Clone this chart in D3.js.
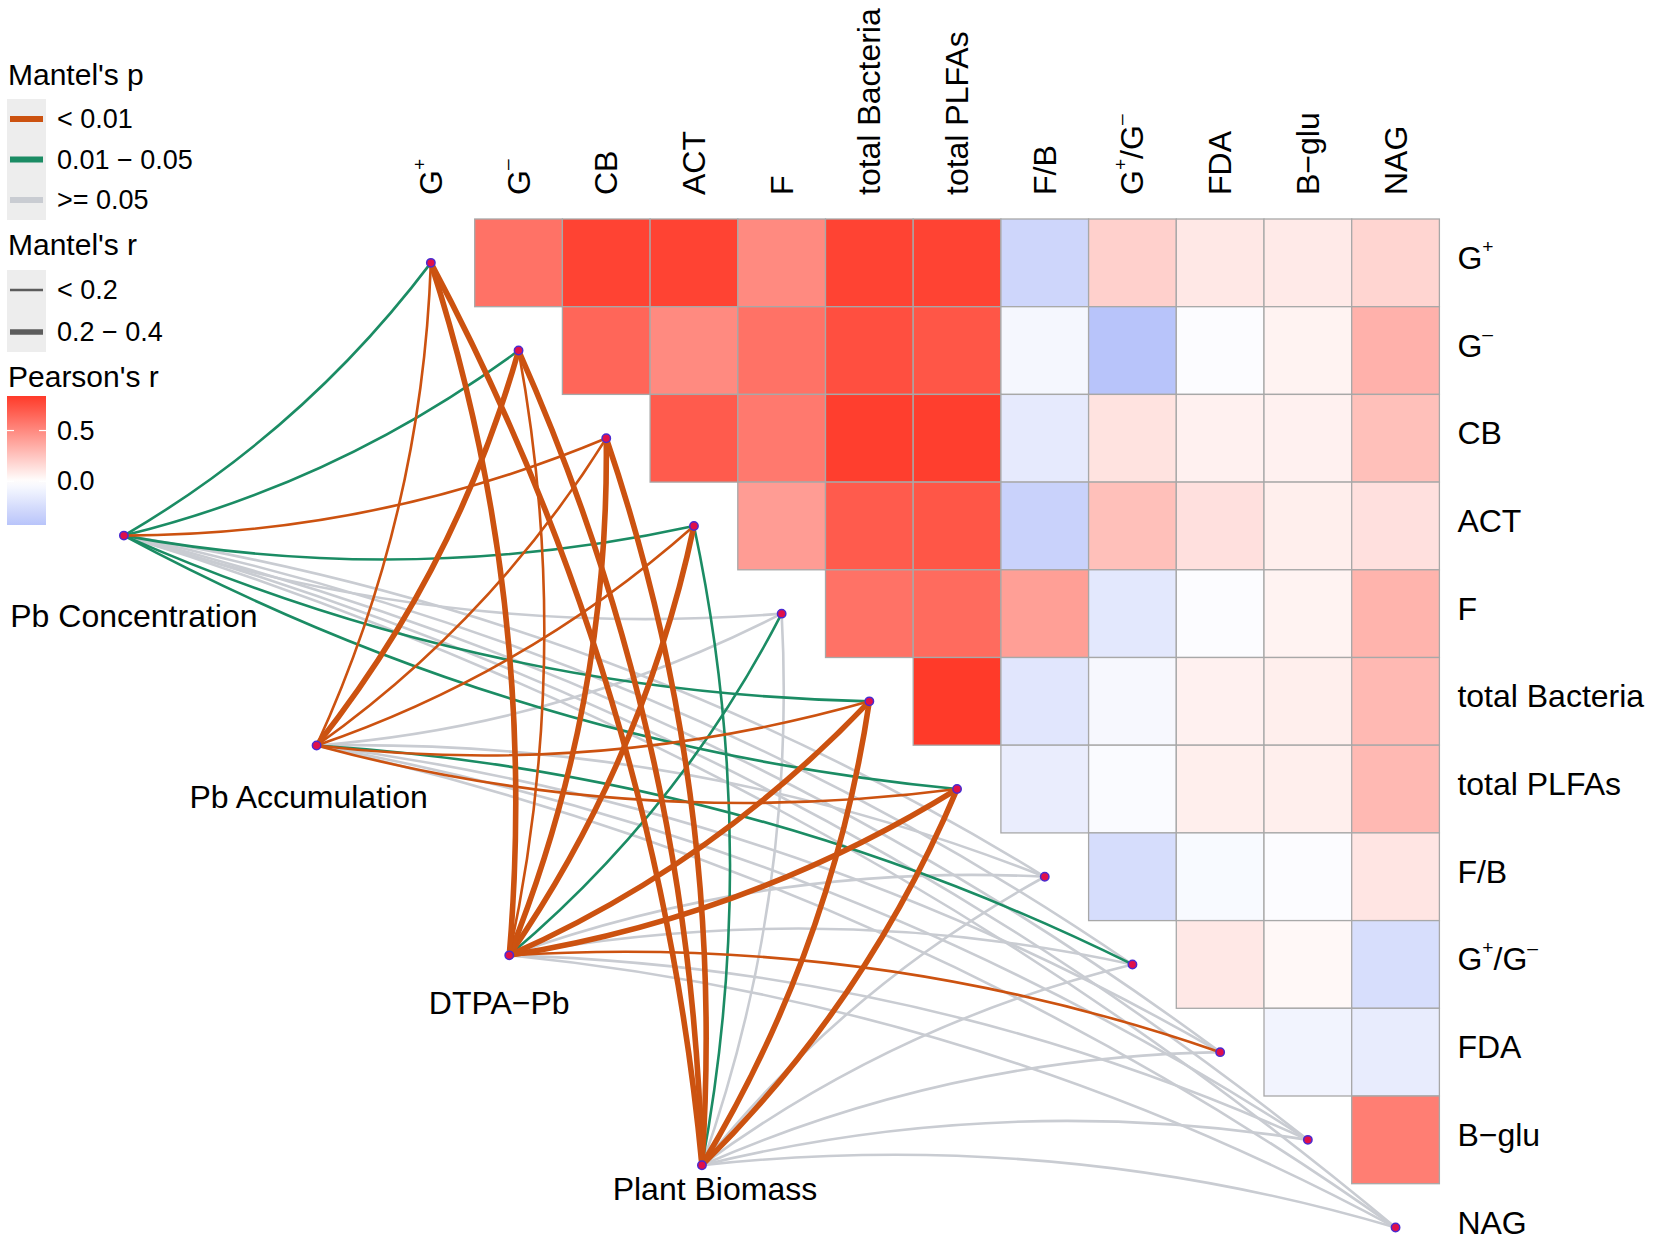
<!DOCTYPE html>
<html>
<head>
<meta charset="utf-8">
<script src="https://cdn.jsdelivr.net/npm/d3@7"></script>
<style>
  body { margin: 0; background: #fff; }
  text { font-family: "Liberation Sans", Arial, sans-serif; fill: #000; }
</style>
</head>
<body>
<svg id="chart" width="1654" height="1240"></svg>
<script>
// ---- data ----
const specNames = ["G^+", "G^-", "CB", "ACT", "F", "total Bacteria", "total PLFAs",
  "F/B", "G^+/G^-", "FDA", "B\u2212glu", "NAG"];
const envNames = ["Pb Concentration", "Pb Accumulation", "DTPA\u2212Pb", "Plant Biomass"];

// Pearson's r, upper triangle: row i holds columns i+1 .. 11
const pearsonRows = [
  [0.60, 0.80, 0.80, 0.50, 0.80, 0.80, -0.30, 0.20, 0.10, 0.09, 0.18],
  [0.65, 0.50, 0.60, 0.75, 0.72, -0.06, -0.43, -0.02, 0.05, 0.33],
  [0.70, 0.57, 0.82, 0.82, -0.15, 0.12, 0.06, 0.06, 0.27],
  [0.42, 0.70, 0.72, -0.33, 0.27, 0.13, 0.07, 0.13],
  [0.60, 0.63, 0.41, -0.17, -0.02, 0.05, 0.32],
  [0.84, -0.18, -0.05, 0.06, 0.07, 0.30],
  [-0.13, -0.03, 0.07, 0.07, 0.30],
  [-0.25, -0.04, -0.02, 0.11],
  [0.10, 0.03, -0.24],
  [-0.08, -0.14],
  [0.55]
];

// Mantel test, one row per env variable, columns follow specNames
const mantelP = [
  [0.030, 0.020, 0.008, 0.040, 0.150, 0.030, 0.020, 0.300, 0.120, 0.400, 0.500, 0.600],
  [0.004, 0.001, 0.003, 0.006, 0.200, 0.005, 0.007, 0.300, 0.030, 0.250, 0.400, 0.500],
  [0.001, 0.008, 0.001, 0.001, 0.020, 0.001, 0.001, 0.300, 0.200, 0.006, 0.500, 0.350],
  [0.001, 0.001, 0.001, 0.020, 0.300, 0.001, 0.001, 0.400, 0.250, 0.300, 0.200, 0.150]
];
const mantelR = [
  [0.15, 0.14, 0.16, 0.13, 0.05, 0.12, 0.13, 0.02, 0.06, 0.01, 0.03, 0.02],
  [0.18, 0.24, 0.17, 0.15, 0.04, 0.16, 0.14, 0.03, 0.12, 0.05, 0.02, 0.01],
  [0.30, 0.19, 0.28, 0.27, 0.12, 0.31, 0.29, 0.04, 0.06, 0.16, 0.03, 0.05],
  [0.32, 0.28, 0.30, 0.13, 0.05, 0.29, 0.30, 0.02, 0.07, 0.04, 0.08, 0.09]
];

const pLabels = ["< 0.01", "0.01 \u2212 0.05", ">= 0.05"];
const rLabels = ["< 0.2", "0.2 \u2212 0.4"];
const fillTicks = [0.0, 0.5];

// ---- layout ----
const svg = d3.select("#chart");
const cell = 87.7, gx0 = 387, gy0 = 219;
const n = specNames.length;
const x = d3.scaleBand().domain(d3.range(n)).range([gx0, gx0 + n * cell]);
const y = d3.scaleBand().domain(d3.range(n)).range([gy0, gy0 + n * cell]);
const gu = d3.scaleLinear().domain([0, 1]).range([gx0, gx0 + cell]);
const gv = d3.scaleLinear().domain([0, 1]).range([gy0, gy0 + cell]);

const allR = pearsonRows.flat();
const rMin = d3.min(allR), rMax = d3.max(allR);
const fill = d3.scaleLinear().domain([-1, 0, 1])
  .range(["#5a76f3", "#ffffff", "#ff1400"]).interpolate(d3.interpolateRgb);

const pColor = d3.scaleThreshold().domain([0.01, 0.05]).range(["#cc5210", "#1b8c64", "#c9ccd2"]);
const rWidth = d3.scaleThreshold().domain([0.2]).range([2.6, 5.6]);

// labels with superscripts
function addLabel(sel, str, size) {
  const parts = str.split(/(\^[+-])/).filter(s => s.length);
  let shifted = false;
  parts.forEach(p => {
    const t = sel.append("tspan");
    if (p[0] === "^") {
      t.text(p[1] === "-" ? "\u2013" : "+").attr("font-size", size * 0.6).attr("dy", -size * 0.38);
      shifted = true;
    } else {
      t.text(p);
      if (shifted) { t.attr("dy", size * 0.38); shifted = false; }
    }
  });
}

// ---- heatmap cells ----
const cells = [];
pearsonRows.forEach((row, i) => row.forEach((v, k) => cells.push({ i, j: i + 1 + k, v })));
svg.append("g").selectAll("rect").data(cells).join("rect")
  .attr("x", d => x(d.j)).attr("y", d => y(d.i))
  .attr("width", x.bandwidth()).attr("height", y.bandwidth())
  .attr("fill", d => fill(d.v)).attr("stroke", "#a8a8a8").attr("stroke-width", 1.3);

// column labels (top, rotated)
specNames.forEach((s, j) => {
  const t = svg.append("text")
    .attr("transform", `translate(${x(j) + x.bandwidth() / 2},${gy0 - 24}) rotate(-90)`)
    .attr("dominant-baseline", "central").attr("font-size", 32);
  addLabel(t, s, 32);
});
// row labels (right)
specNames.forEach((s, i) => {
  const t = svg.append("text")
    .attr("x", gx0 + n * cell + 18).attr("y", y(i) + y.bandwidth() / 2 - 5)
    .attr("dominant-baseline", "central").attr("font-size", 32);
  addLabel(t, s, 32);
});

// ---- mantel links ----
const envPos = envNames.map((e, k) => [gu(-3.0 + 2.197 * k), gv(3.61 + 2.393 * k)]);
const specPos = specNames.map((s, i) => [x(i) + x.bandwidth() / 2, y(i) + y.bandwidth() / 2]);
const envMeanY = d3.mean(envPos, d => d[1]);

const links = [];
envNames.forEach((e, k) => specNames.forEach((s, i) => {
  links.push({ k, i, p: mantelP[k][i], r: mantelR[k][i] });
}));
const rank = p => (p < 0.01 ? 2 : p < 0.05 ? 1 : 0);
links.sort((a, b) => rank(a.p) - rank(b.p) || a.r - b.r);

function curve(a, b, sign) {
  const dx = b[0] - a[0], dy = b[1] - a[1];
  const c = 0.1 * sign;
  const cx = (a[0] + b[0]) / 2 - dy * c, cy = (a[1] + b[1]) / 2 + dx * c;
  return `M${a[0]},${a[1]} Q${cx},${cy} ${b[0]},${b[1]}`;
}

svg.append("g").selectAll("path").data(links).join("path")
  .attr("d", d => curve(envPos[d.k], specPos[d.i], specPos[d.i][1] < envMeanY ? 1 : -1))
  .attr("fill", "none")
  .attr("stroke", d => pColor(d.p))
  .attr("stroke-width", d => rWidth(d.r))
  .attr("stroke-linecap", "round");

// nodes
const nodes = svg.append("g");
nodes.selectAll("circle.spec").data(specPos).join("circle").attr("class", "spec")
  .attr("cx", d => d[0]).attr("cy", d => d[1]).attr("r", 4.2)
  .attr("fill", "#e0104a").attr("stroke", "#4a2ad0").attr("stroke-width", 1.5);
nodes.selectAll("circle.env").data(envPos).join("circle").attr("class", "env")
  .attr("cx", d => d[0]).attr("cy", d => d[1]).attr("r", 4.2)
  .attr("fill", "#e0104a").attr("stroke", "#4a2ad0").attr("stroke-width", 1.5);

// env labels
const envLabelOffset = [[10, 91], [-8, 63], [-10, 59], [13, 35]];
svg.append("g").selectAll("text").data(envNames).join("text")
  .attr("x", (d, k) => envPos[k][0] + envLabelOffset[k][0])
  .attr("y", (d, k) => envPos[k][1] + envLabelOffset[k][1])
  .attr("text-anchor", "middle").attr("font-size", 32)
  .text(d => d);

// ---- legends ----
const lg = svg.append("g");
lg.append("text").attr("x", 8).attr("y", 85).attr("font-size", 30).text("Mantel's p");
lg.append("rect").attr("x", 7).attr("y", 99).attr("width", 39).attr("height", 121).attr("fill", "#ededed");
const pKeyP = [0.005, 0.03, 0.2];
pLabels.forEach((lab, q) => {
  const ky = 119 + q * 40.5;
  lg.append("line").attr("x1", 10).attr("x2", 43).attr("y1", ky).attr("y2", ky)
    .attr("stroke", pColor(pKeyP[q])).attr("stroke-width", 6);
  lg.append("text").attr("x", 57).attr("y", ky).attr("dominant-baseline", "central")
    .attr("font-size", 27).text(lab);
});

lg.append("text").attr("x", 8).attr("y", 255).attr("font-size", 30).text("Mantel's r");
lg.append("rect").attr("x", 7).attr("y", 270).attr("width", 39).attr("height", 82).attr("fill", "#ededed");
const rKeyR = [0.1, 0.3];
rLabels.forEach((lab, q) => {
  const ky = 290 + q * 42;
  lg.append("line").attr("x1", 10).attr("x2", 43).attr("y1", ky).attr("y2", ky)
    .attr("stroke", "#5c5c5c").attr("stroke-width", rWidth(rKeyR[q]));
  lg.append("text").attr("x", 57).attr("y", ky).attr("dominant-baseline", "central")
    .attr("font-size", 27).text(lab);
});

lg.append("text").attr("x", 8).attr("y", 387).attr("font-size", 30).text("Pearson's r");
const barY = d3.scaleLinear().domain([rMax, rMin]).range([396, 525]);
const grad = svg.append("defs").append("linearGradient").attr("id", "pgrad")
  .attr("x1", 0).attr("y1", 0).attr("x2", 0).attr("y2", 1);
d3.range(0, 1.0001, 0.05).forEach(t => {
  grad.append("stop").attr("offset", t).attr("stop-color", fill(rMax + (rMin - rMax) * t));
});
lg.append("rect").attr("x", 7).attr("y", 396).attr("width", 39).attr("height", 129).attr("fill", "url(#pgrad)");
fillTicks.forEach(v => {
  const ty = barY(v);
  lg.append("line").attr("x1", 7).attr("x2", 14).attr("y1", ty).attr("y2", ty).attr("stroke", "#fff").attr("stroke-width", 1.2);
  lg.append("line").attr("x1", 39).attr("x2", 46).attr("y1", ty).attr("y2", ty).attr("stroke", "#fff").attr("stroke-width", 1.2);
  lg.append("text").attr("x", 57).attr("y", ty).attr("dominant-baseline", "central")
    .attr("font-size", 27).text(d3.format(".1f")(v));
});
</script>
</body>
</html>
